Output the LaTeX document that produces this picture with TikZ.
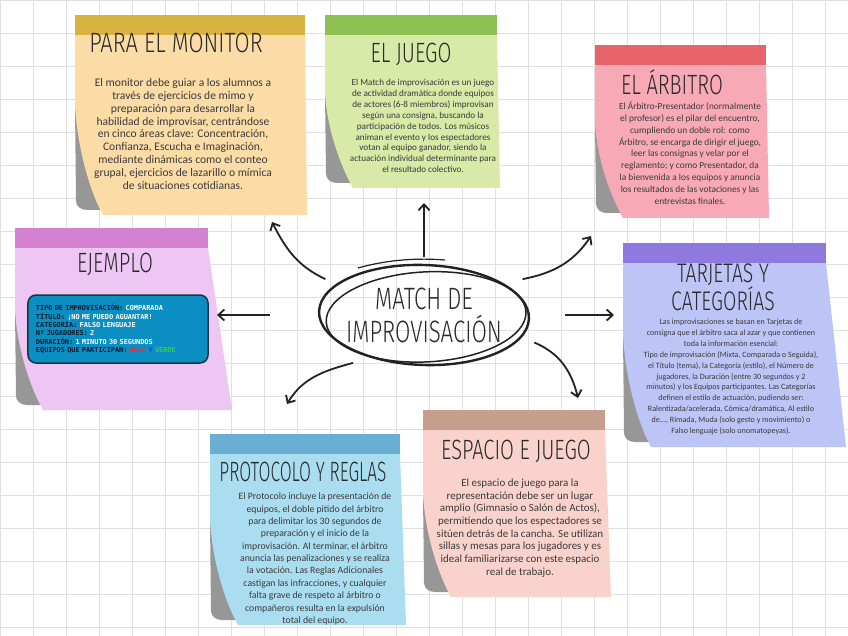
\documentclass[tikz,border=0pt]{standalone}
\usepackage{fontspec}
\setmainfont{Carlito}
\newfontfamily\titlefont[FakeStretch=0.72]{Fira Sans Light}
\newfontfamily\boxfont{DejaVu Sans Mono}
\usetikzlibrary{shapes.geometric,arrows.meta}

\definecolor{gridgray}{HTML}{E0E0E0}
\definecolor{notegray}{HTML}{979797}
\definecolor{titleink}{HTML}{2A2A2A}
\definecolor{bodyink}{HTML}{3A3A3A}
\definecolor{arrowink}{HTML}{222222}
\definecolor{monband}{HTML}{D8B342}
\definecolor{monbody}{HTML}{FCDCA6}
\definecolor{juegoband}{HTML}{8DC152}
\definecolor{juegobody}{HTML}{D9E9A7}
\definecolor{arbband}{HTML}{E8646B}
\definecolor{arbbody}{HTML}{F8A9B6}
\definecolor{ejeband}{HTML}{D581D2}
\definecolor{ejebody}{HTML}{EDC6F3}
\definecolor{tarband}{HTML}{8F78E0}
\definecolor{tarbody}{HTML}{BDC5F6}
\definecolor{proband}{HTML}{6AAED4}
\definecolor{probody}{HTML}{ABDDF1}
\definecolor{espband}{HTML}{C59E8E}
\definecolor{espbody}{HTML}{F9D2CC}
\definecolor{boxblue}{HTML}{0B8FC3}
\definecolor{boxedge}{HTML}{1B3340}
\definecolor{boxlabel}{HTML}{101828}
\definecolor{rojo}{HTML}{E0303A}
\definecolor{azul}{HTML}{2040E8}
\definecolor{verde}{HTML}{2FD05A}

% sticky note: left, top, right, bottom, flare, band colour, body colour
\newcommand{\stickynote}[7]{%
  \fill[notegray] (#1,{#2+0.45*(#4-#2)}) -- (#1+1,#4-14) to[out=-90,in=180] (#1+12,#4-5)
    -- (#1+32,#4-5) -- (#1+32,{#2+0.45*(#4-#2)}) -- cycle;
  \fill[#7] (#1,#2+20) -- (#3,#2+20) -- (#3+#5,#4) -- (#1+28,#4)
    .. controls (#1+14,#4-25) and (#1+2,{#4-0.35*(#4-#2)}) .. (#1,{#2+0.45*(#4-#2)}) -- cycle;
  \fill[#6] (#1,#2) rectangle (#3,#2+20);
}

\begin{document}
\begin{tikzpicture}[x=1bp, y=-1bp,
  notetitle/.style={font=\titlefont\fontsize{28}{28}\selectfont, text=titleink, inner sep=0, align=center},
  notetext/.style={align=center, text=bodyink, inner sep=0},
  hub/.style={ellipse, minimum width=250bp, minimum height=116bp, inner sep=0, align=center, font=\titlefont\fontsize{31}{31}\selectfont, text=titleink},
  exbox/.style={rectangle, rounded corners=8bp, fill=boxblue, draw=boxedge, line width=1.5bp, minimum width=180bp, minimum height=68bp, inner xsep=8bp, text width=164bp, align=left, text=white, font=\boxfont\bfseries\fontsize{6.9}{8.4}\selectfont},
  arrow/.style={-{Straight Barb[length=6bp,width=11bp]}, line width=1.8bp, draw=arrowink},
  gridline/.style={draw=gridgray, line width=0.7bp},
]

\useasboundingbox (0,0) rectangle (848,636);
\fill[white] (0,0) rectangle (848,636);
\draw[gridline, step=33bp] (0,0) grid (848,636);

% === Sticky notes ===
\stickynote{75}{15}{305}{215}{2}{monband}{monbody}
\stickynote{325}{15}{497}{188}{3}{juegoband}{juegobody}
\stickynote{595}{45}{766}{218}{3}{arbband}{arbbody}
\stickynote{15}{228}{208}{410}{24}{ejeband}{ejebody}
\stickynote{623}{243}{826}{447}{20}{tarband}{tarbody}
\stickynote{210}{434}{400}{625}{6}{proband}{probody}
\stickynote{423}{410}{605}{597}{6}{espband}{espbody}

% === Titles and texts ===
\node[notetitle] (monTitle) at (176,43) {\scalebox{1.09}[1]{PARA EL MONITOR}};
\node[notetext, font=\fontsize{11.6}{13}\selectfont] (monText) at (183,134)
  {El monitor debe guiar a los alumnos a\\ través de ejercicios de mimo y\\ preparación para desarrollar la\\ habilidad de improvisar, centrándose\\ en cinco áreas clave: Concentración,\\ Confianza, Escucha e Imaginación,\\ mediante dinámicas como el conteo\\ grupal, ejercicios de lazarillo o mímica\\ de situaciones cotidianas.};

\node[notetitle] (juegoTitle) at (411,54) {EL JUEGO};
\node[notetext, font=\fontsize{9.2}{10.9}\selectfont] (juegoText) at (423,126)
  {El Match de improvisación es un juego\\ de actividad dramática donde equipos\\ de actores (6-8 miembros) improvisan\\ según una consigna, buscando la\\ participación de todos. Los músicos\\ animan el evento y los espectadores\\ votan al equipo ganador, siendo la\\ actuación individual determinante para\\ el resultado colectivo.};

\node[notetitle] (arbTitle) at (672,82) {EL ÁRBITRO};
\node[notetext, font=\fontsize{9.4}{11.9}\selectfont] (arbText) at (690,153)
  {El Árbitro-Presentador (normalmente\\ el profesor) es el pilar del encuentro,\\ cumpliendo un doble rol: como\\ Árbitro, se encarga de dirigir el juego,\\ leer las consignas y velar por el\\ reglamento; y como Presentador, da\\ la bienvenida a los equipos y anuncia\\ los resultados de las votaciones y las\\ entrevistas finales.};

\node[notetitle] (ejeTitle) at (115,264) {EJEMPLO};
\node[exbox] (ejeBox) at (118,329)
  {{\color{boxlabel}TIPO DE IMPROVISACIÓN:} COMPARADA\\
   {\color{boxlabel}TÍTULO:} ¡NO ME PUEDO AGUANTAR!\\
   {\color{boxlabel}CATEGORÍA:} FALSO LENGUAJE\\
   {\color{boxlabel}Nº JUGADORES:} 2\\
   {\color{boxlabel}DURACIÓN:} 1 MINUTO 30 SEGUNDOS\\
   {\color{boxlabel}EQUIPOS QUE PARTICIPAN:} {\color{rojo}ROJO} {\color{azul}Y} {\color{verde}VERDE}};

\node[notetitle, font=\titlefont\fontsize{27}{21}\selectfont] (tarTitle) at (723,287) {TARJETAS Y\\ CATEGORÍAS};
\node[notetext, font=\fontsize{8.1}{10.9}\selectfont] (tarText) at (731,377)
  {Las improvisaciones se basan en Tarjetas de\\ consigna que el árbitro saca al azar y que contienen\\ toda la información esencial:\\ Tipo de improvisación (Mixta, Comparada o Seguida),\\ el Título (tema), la Categoría (estilo), el Número de\\ jugadores, la Duración (entre 30 segundos y 2\\ minutos) y los Equipos participantes. Las Categorías\\ definen el estilo de actuación, pudiendo ser:\\ Ralentizada/acelerada, Cómica/dramática, Al estilo\\ de..., Rimada, Muda (solo gesto y movimiento) o\\ Falso lenguaje (solo onomatopeyas).};

\node[notetitle] (proTitle) at (303,472) {\scalebox{0.86}[1]{PROTOCOLO Y REGLAS}};
\node[notetext, font=\fontsize{9.8}{12.4}\selectfont] (proText) at (315,559)
  {El Protocolo incluye la presentación de\\ equipos, el doble pitido del árbitro\\ para delimitar los 30 segundos de\\ preparación y el inicio de la\\ improvisación. Al terminar, el árbitro\\ anuncia las penalizaciones y se realiza\\ la votación. Las Reglas Adicionales\\ castigan las infracciones, y cualquier\\ falta grave de respeto al árbitro o\\ compañeros resulta en la expulsión\\ total del equipo.};

\node[notetitle] (espTitle) at (516,451) {ESPACIO E JUEGO};
\node[notetext, font=\fontsize{11}{12.7}\selectfont] (espText) at (520,528)
  {El espacio de juego para la\\ representación debe ser un lugar\\ amplio (Gimnasio o Salón de Actos),\\ permitiendo que los espectadores se\\ sitúen detrás de la cancha. Se utilizan\\ sillas y mesas para los jugadores y es\\ ideal familiarizarse con este espacio\\ real de trabajo.};

% === Central idea ===
\node[hub] (match) at (424,315) {MATCH DE\\[2pt]IMPROVISACIÓN};
\draw[arrowink, line width=2.4bp, rotate around={-2:(match.center)}] (match.center) ellipse [x radius=105, y radius=50];
\draw[arrowink, line width=1.5bp, rotate around={3:(match.center)}] ([xshift=2bp,yshift=-2bp]match.center) ellipse [x radius=100, y radius=45];
\draw[arrowink, line width=1.2bp] (358,268) .. controls (390,259) and (420,258) .. (445,260);

% === Arrows ===
\coordinate (toMonitor) at (272,222);
\coordinate (toJuego) at (424,203);
\coordinate (toArbitro) at (591,236);
\coordinate (toEjemplo) at (217,315);
\coordinate (toTarjetas) at (614,315);
\coordinate (toProtocolo) at (287,404);
\coordinate (toEspacio) at (578,398);

\draw[arrow] (match.160) to[out=155,in=-63] (toMonitor);
\draw[arrow] (match.north) -- (toJuego);
\draw[arrow] (match.20) to[out=11,in=236] (toArbitro);
\draw[arrow, shorten <=29bp] (match.west) -- (toEjemplo);
\draw[arrow, shorten <=16bp] (match.east) -- (toTarjetas);
\draw[arrow] (match.214) to[out=195,in=59] (toProtocolo);
\draw[arrow] (match.-14) to[out=-23,in=104] (toEspacio);

\end{tikzpicture}
\end{document}
